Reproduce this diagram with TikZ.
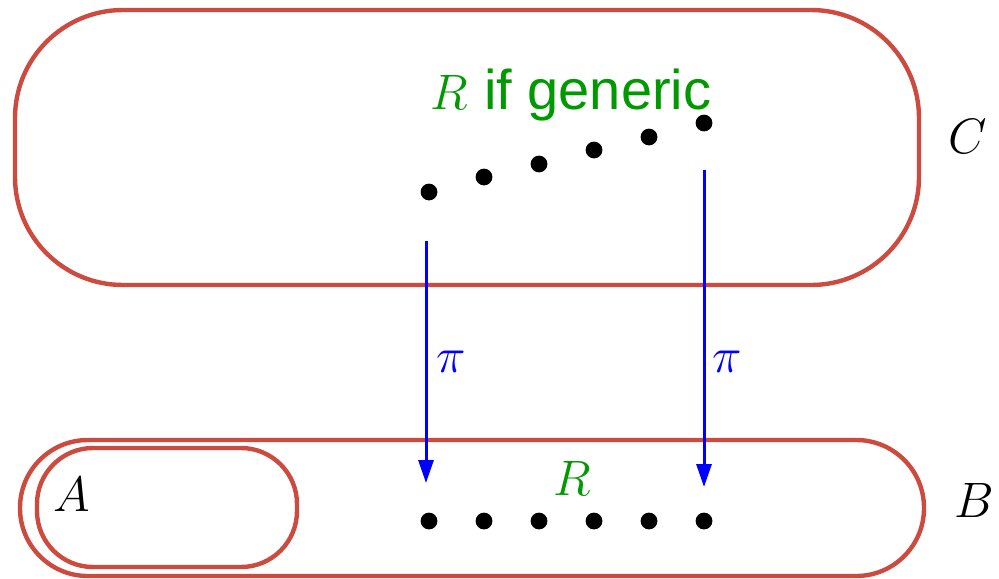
\documentclass[tikz,border=0pt]{standalone}
\usepackage{fontspec}
\setsansfont{Liberation Sans}
\usetikzlibrary{arrows.meta}
\definecolor{ovalred}{RGB}{205,74,63}
\definecolor{labgreen}{RGB}{0,153,0}
\begin{document}
\begin{tikzpicture}[x=0.5pt,y=-0.5pt,
  oval/.style={draw=ovalred,line width=2.2pt},
  pt/.style={circle,fill=black,inner sep=0pt,minimum size=8.4pt},
  proj/.style={draw=blue,line width=1.5pt,-{Triangle[length=11.5pt,width=7.5pt]}},
  lab/.style={inner sep=0pt,font=\fontsize{27}{32}\selectfont}]
\useasboundingbox (0,0) rectangle (999,578);
% sets
\draw[oval, rounded corners=54pt] (15,10) rectangle (919,285);
\draw[oval, rounded corners=33.9pt] (20,440) rectangle (924,576);
\draw[oval, rounded corners=28pt] (37,448) rectangle (297,567);
% set labels
\node[lab, anchor=base] (labC) at (968,153) {$C$};
\node[lab, anchor=base] (labB) at (974,517) {$B$};
\node[lab, anchor=base] (labA) at (72,511) {$A$};
% points upstairs
\node[pt] (c1) at (429,192) {};
\node[pt] (c2) at (484,177) {};
\node[pt] (c3) at (539,164) {};
\node[pt] (c4) at (594,150) {};
\node[pt] (c5) at (649,137) {};
\node[pt] (c6) at (704,123) {};
% points downstairs
\node[pt] (b1) at (429,521) {};
\node[pt] (b2) at (484,521) {};
\node[pt] (b3) at (539,521) {};
\node[pt] (b4) at (594,521) {};
\node[pt] (b5) at (649,521) {};
\node[pt] (b6) at (704,521) {};
% green labels
\node[lab, text=labgreen, anchor=base west] (gen) at (430,109) {$R$ {\sffamily\fontsize{28}{32}\selectfont if generic}};
\node[lab, text=labgreen, anchor=base] (labR) at (572,495) {$R$};
% projections
\coordinate (s1) at (426,241);
\coordinate (e1) at (426,483);
\coordinate (s2) at (704,170);
\coordinate (e2) at (704,487);
\draw[proj] (s1) -- (e1);
\draw[proj] (s2) -- (e2);
\node[lab, text=blue] (pi1) at (451,362) {$\pi$};
\node[lab, text=blue] (pi2) at (727,362) {$\pi$};
\end{tikzpicture}
\end{document}
